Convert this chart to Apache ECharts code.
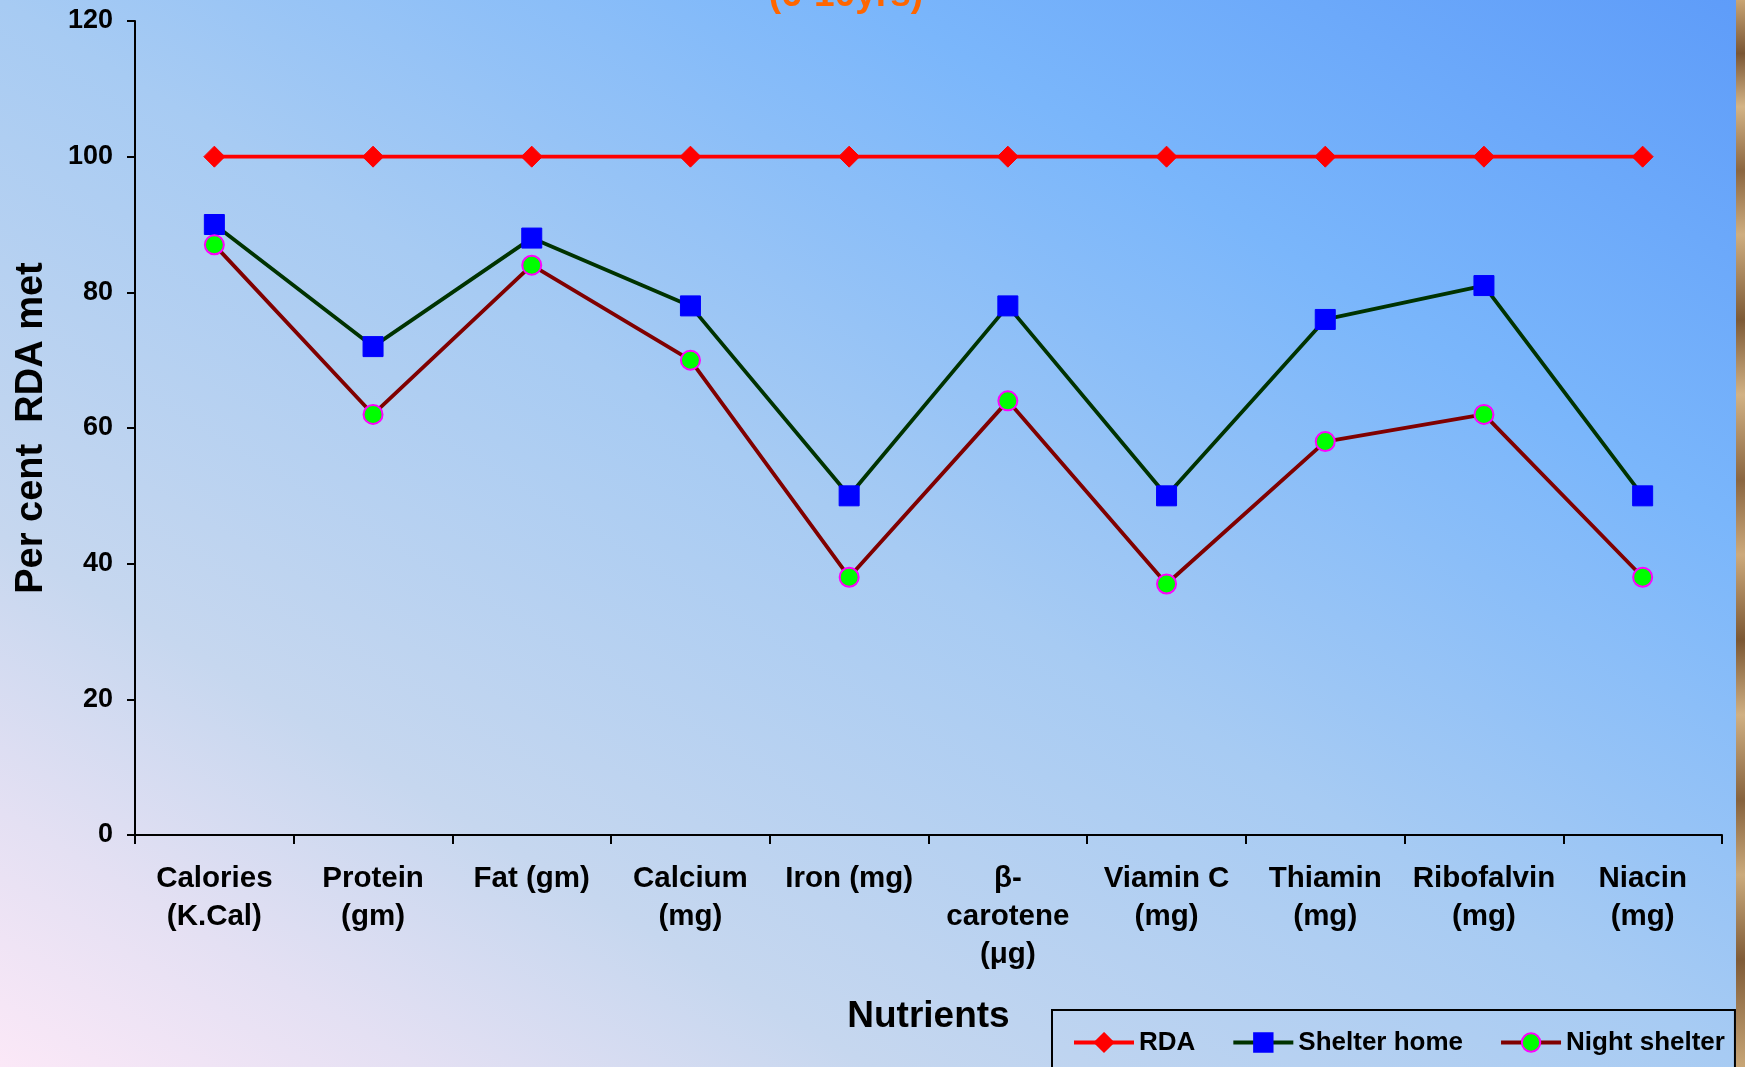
<!DOCTYPE html>
<html>
<head>
<meta charset="utf-8">
<script src="https://cdn.jsdelivr.net/npm/echarts@6/dist/echarts.min.js"></script>
<style>
  html, body { margin: 0; padding: 0; }
  #chart { width: 1745px; height: 1067px; }
</style>
</head>
<body>
<div id="chart"></div>
<script>
// Nutrient categories shown along the x axis
const nutrients = [
  'Calories\n(K.Cal)', 'Protein\n(gm)', 'Fat (gm)', 'Calcium\n(mg)', 'Iron (mg)',
  'β-\ncarotene\n(μg)', 'Viamin C\n(mg)', 'Thiamin\n(mg)', 'Ribofalvin\n(mg)', 'Niacin\n(mg)'
];

// Per cent of RDA met
const rda          = [100, 100, 100, 100, 100, 100, 100, 100, 100, 100];
const shelterHome  = [90, 72, 88, 78, 50, 78, 50, 76, 81, 50];
const nightShelter = [87, 62, 84, 70, 38, 64, 37, 58, 62, 38];

// Y axis scale
const yMin = 0, yMax = 120, yStep = 20;

const W = 1745, H = 1067;
const FONT = '"Liberation Sans", Arial, sans-serif';
const chart = echarts.init(document.getElementById('chart'), null, { renderer: 'canvas' });

// Diagonal background: colour bands run parallel to the top-left / bottom-right diagonal
const k = 2 * W * H / (W * W + H * H);
const bgGradient = new echarts.graphic.LinearGradient(0, H, k * H, H - k * W, [
  { offset: 0, color: '#fbe8f7' },
  { offset: 0.12, color: '#e4e0f3' },
  { offset: 0.25, color: '#c6d7ef' },
  { offset: 0.5, color: '#a7cbf3' },
  { offset: 0.75, color: '#7ab6fb' },
  { offset: 1, color: '#5e9cf9' }
], true);

chart.setOption({
  animation: false,
  graphic: [
    {
      type: 'rect', z: -100, silent: true,
      shape: { x: 0, y: 0, width: W, height: H },
      style: { fill: bgGradient }
    },
    {
      // textured brown edge on the right
      type: 'rect', z: -90, silent: true,
      shape: { x: 1736, y: 0, width: 9, height: H },
      style: {
        fill: new echarts.graphic.LinearGradient(0, 0, 0, 1, [
          { offset: 0, color: '#c9a574' }, { offset: 0.05, color: '#7a5634' },
          { offset: 0.1, color: '#d4b486' }, { offset: 0.16, color: '#8b6640' },
          { offset: 0.22, color: '#cfae80' }, { offset: 0.3, color: '#7d5a36' },
          { offset: 0.37, color: '#d2b285' }, { offset: 0.45, color: '#8a6641' },
          { offset: 0.52, color: '#cdaa7c' }, { offset: 0.6, color: '#7b5733' },
          { offset: 0.67, color: '#d0b083' }, { offset: 0.75, color: '#86623d' },
          { offset: 0.82, color: '#cbab7d' }, { offset: 0.9, color: '#7f5b37' },
          { offset: 1, color: '#c8a677' }
        ])
      }
    },
    {
      type: 'text', silent: true,
      style: {
        text: '(6-10yrs)', x: 846, y: 14,
        align: 'center', verticalAlign: 'bottom',
        font: 'bold 37px ' + FONT, fill: '#ff6600'
      }
    }
  ],
  grid: { left: 135, right: 23, top: 21, bottom: 232, containLabel: false },
  legend: {
    left: 1052, top: 1010, width: 680,
    padding: [19.5, 10, 30, 20],
    itemGap: 36, itemWidth: 60, itemHeight: 23,
    borderColor: '#000', borderWidth: 2,
    lineStyle: { width: 4 },
    textStyle: { fontFamily: FONT, fontWeight: 'bold', fontSize: 26, color: '#000' },
    data: ['RDA', 'Shelter home', 'Night shelter']
  },
  xAxis: {
    type: 'category',
    data: nutrients,
    boundaryGap: true,
    name: 'Nutrients',
    nameLocation: 'middle',
    nameGap: 163,
    nameTextStyle: { fontFamily: FONT, fontWeight: 'bold', fontSize: 37, color: '#000' },
    axisLine: { lineStyle: { color: '#000', width: 2 } },
    axisTick: { show: true, length: 9, lineStyle: { color: '#000', width: 2 } },
    axisLabel: {
      interval: 0, margin: 25,
      fontFamily: FONT, fontWeight: 'bold', fontSize: 29.5, lineHeight: 38, color: '#000'
    },
    splitLine: { show: false }
  },
  yAxis: {
    type: 'value',
    min: yMin, max: yMax, interval: yStep,
    name: 'Per cent  RDA met',
    nameLocation: 'middle',
    nameRotate: 90,
    nameGap: 84,
    nameTextStyle: { fontFamily: FONT, fontWeight: 'bold', fontSize: 38, color: '#000' },
    axisLine: { show: true, lineStyle: { color: '#000', width: 2 } },
    axisTick: { show: true, length: 8, lineStyle: { color: '#000', width: 2 } },
    axisLabel: { margin: 22, fontFamily: FONT, fontWeight: 'bold', fontSize: 27, color: '#000' },
    splitLine: { show: false }
  },
  series: [
    {
      name: 'RDA', type: 'line', data: rda,
      symbol: 'diamond', symbolSize: 21,
      lineStyle: { color: '#ff0000', width: 3.8 },
      itemStyle: { color: '#ff0000', borderColor: '#ff0000', borderWidth: 1 }
    },
    {
      name: 'Shelter home', type: 'line', data: shelterHome,
      symbol: 'rect', symbolSize: 20,
      lineStyle: { color: '#003300', width: 3.8 },
      itemStyle: { color: '#0000ff', borderColor: '#0000ff', borderWidth: 1 }
    },
    {
      name: 'Night shelter', type: 'line', data: nightShelter,
      symbol: 'circle', symbolSize: 19,
      lineStyle: { color: '#800000', width: 3.8 },
      itemStyle: { color: '#00ff00', borderColor: '#ff00ff', borderWidth: 2 }
    }
  ]
});
</script>
</body>
</html>
